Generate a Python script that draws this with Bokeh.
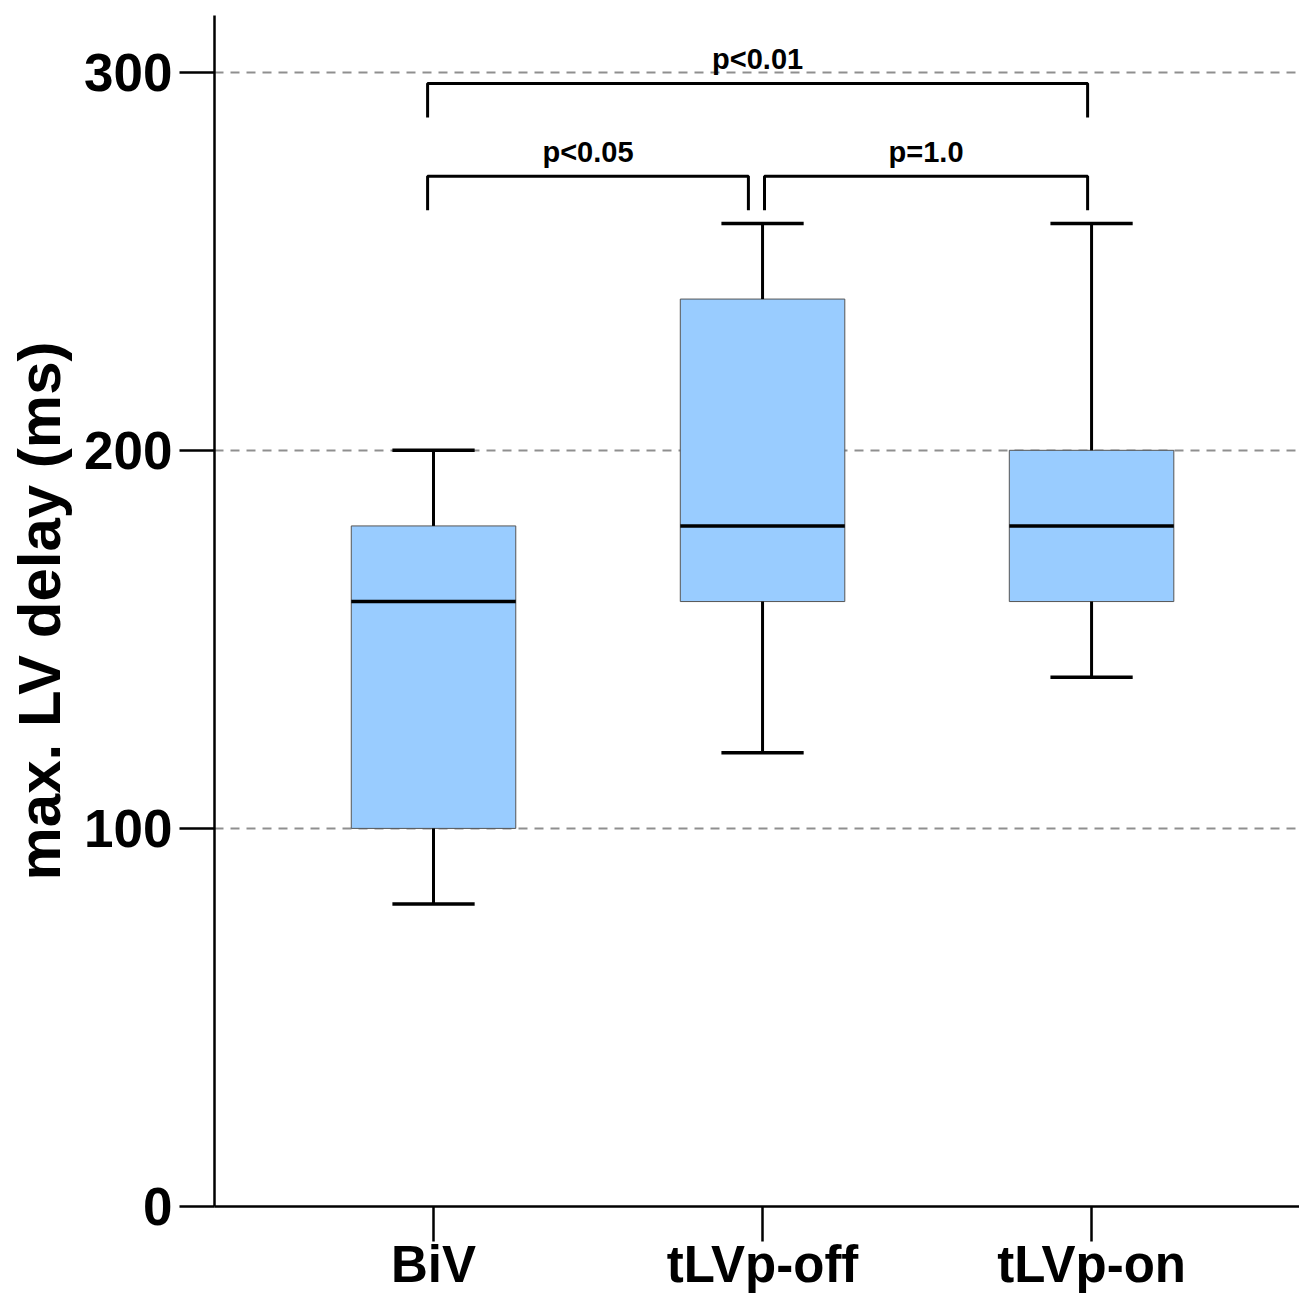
from bokeh.plotting import figure
from bokeh.models import FixedTicker, Range1d
from bokeh.core.properties import value
from bokeh.embed import file_html
from bokeh.resources import INLINE

# ---- data ----
groups = ["BiV", "tLVp-off", "tLVp-on"]
positions = [1, 2, 3]
whisker_low = [80, 120, 140]
q1 = [100, 160, 160]
median = [160, 180, 180]
q3 = [180, 240, 200]
whisker_high = [200, 260, 260]

y_ticks = [0, 100, 200, 300]
grid_ticks = [100, 200, 300]

# significance brackets
br_left = ["BiV", "BiV", "tLVp-off"]
br_right = ["tLVp-on", "tLVp-off", "tLVp-on"]
br_height = [297, 272.5, 272.5]
br_labels = ["p<0.01", "p<0.05", "p=1.0"]

# ---- style ----
FONT = "Liberation Sans"
BOX_W = 0.5
CAP_W = 0.25
LEG = 9
TEXT_GAP = 6.5
br_left_off = [-0.018, -0.018, 0.006]
br_right_off = [-0.012, -0.043, -0.012]

p = figure(width=1299, height=1295, output_backend="svg", toolbar_location=None,
           x_range=Range1d(0.3343, 3.632), y_range=Range1d(0, 315),
           min_border_left=214, min_border_right=0, min_border_top=15,
           min_border_bottom=88)
p.outline_line_color = None
p.background_fill_color = "white"
p.xgrid.visible = False
p.ygrid.ticker = FixedTicker(ticks=grid_ticks)
p.ygrid.grid_line_color = "#8f8f8f"
p.ygrid.grid_line_width = 2
p.ygrid.grid_line_dash = "9 7"

# axes
p.yaxis.ticker = FixedTicker(ticks=y_ticks)
p.xaxis.ticker = FixedTicker(ticks=positions)
p.xaxis.major_label_overrides = {pos: g for pos, g in zip(positions, groups)}
for ax in (p.xaxis[0], p.yaxis[0]):
    ax.axis_line_color = "black"
    ax.axis_line_width = 2.5
    ax.major_tick_line_color = "black"
    ax.major_tick_line_width = 2.5
    ax.major_tick_in = 0
    ax.major_tick_out = 35
    ax.minor_tick_line_color = None
    ax.major_label_text_font = FONT
    ax.major_label_text_font_style = "bold"
    ax.major_label_text_color = "black"
p.yaxis.major_label_text_font_size = "53px"
p.xaxis.major_label_text_font_size = "51px"
p.xaxis.major_label_standoff = -6
p.yaxis.major_label_standoff = 7
p.yaxis.axis_label = "max. LV delay (ms)"
p.yaxis.axis_label_text_font = FONT
p.yaxis.axis_label_text_font_style = "bold"
p.yaxis.axis_label_text_font_size = "60px"
p.yaxis.axis_label_text_color = "black"
p.yaxis.axis_label_standoff = 8

# boxes
p.vbar(x=positions, bottom=q1, top=q3, width=BOX_W, fill_color="#99ccff",
       line_color="#555555", line_width=1)
# medians
p.segment(x0=[x - BOX_W / 2 for x in positions], y0=median,
          x1=[x + BOX_W / 2 for x in positions], y1=median,
          line_color="black", line_width=3.5)
# whiskers
p.segment(x0=positions, y0=q3, x1=positions, y1=whisker_high, line_color="black", line_width=3)
p.segment(x0=positions, y0=q1, x1=positions, y1=whisker_low, line_color="black", line_width=3)
# caps
p.segment(x0=[x - CAP_W / 2 for x in positions], y0=whisker_high,
          x1=[x + CAP_W / 2 for x in positions], y1=whisker_high,
          line_color="black", line_width=3.5)
p.segment(x0=[x - CAP_W / 2 for x in positions], y0=whisker_low,
          x1=[x + CAP_W / 2 for x in positions], y1=whisker_low,
          line_color="black", line_width=3.5)

# brackets
pos_of = dict(zip(groups, positions))
xs, ys, tx, ty = [], [], [], []
for l, r, h, lo, ro in zip(br_left, br_right, br_height, br_left_off, br_right_off):
    xl = pos_of[l] + lo
    xr = pos_of[r] + ro
    xs.append([xl, xl, xr, xr])
    ys.append([h - LEG, h, h, h - LEG])
    tx.append((xl + xr) / 2)
    ty.append(h + TEXT_GAP)
p.multi_line(xs=xs, ys=ys, line_color="black", line_width=3)
p.text(x=tx, y=ty, text=br_labels, text_align="center", text_baseline="alphabetic",
       text_font=value(FONT), text_font_style="bold", text_font_size="29px",
       text_color="black")

open("out.html", "w").write(file_html(p, INLINE))
